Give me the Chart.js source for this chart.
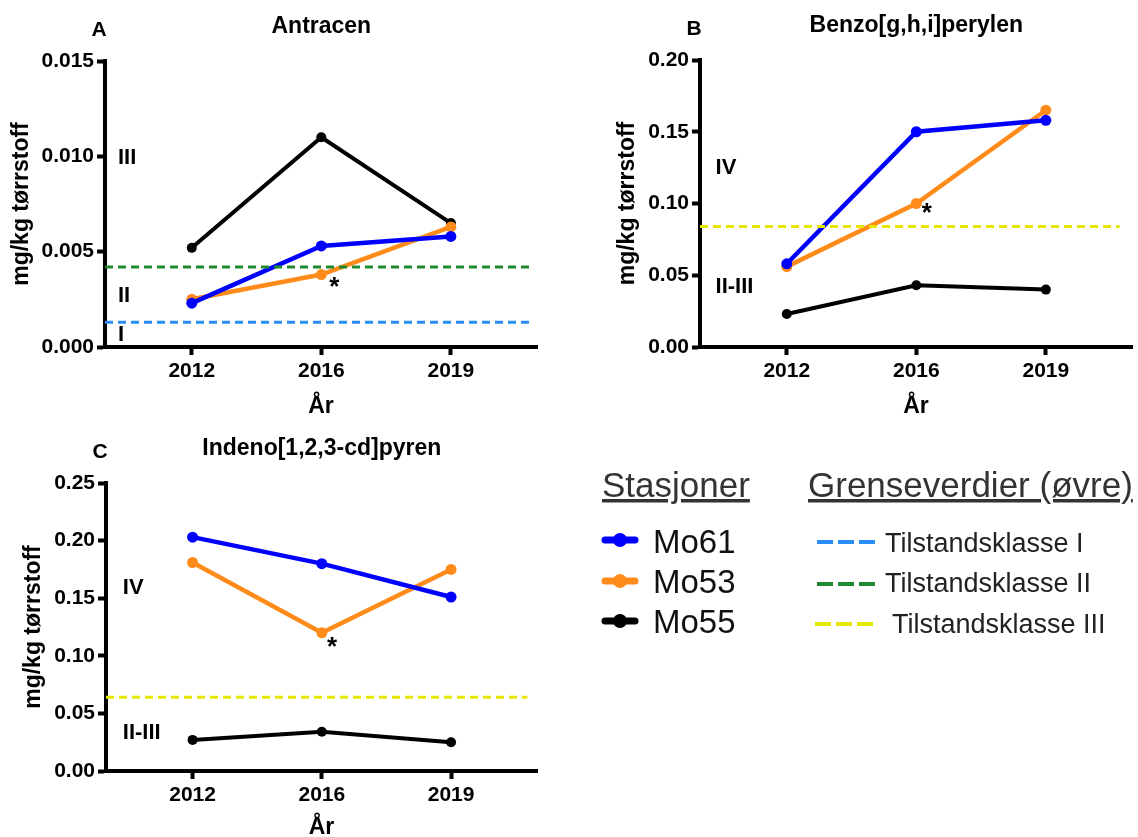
<!DOCTYPE html>
<html>
<head>
<meta charset="utf-8">
<script src="https://cdn.jsdelivr.net/npm/chart.js@4.4.0/dist/chart.umd.min.js"></script>
<style>
  body { margin: 0; background: #fff; width: 1138px; height: 837px; position: relative; overflow: hidden; }
  .box { position: absolute; }
  svg text { font-family: "Liberation Sans", Arial, sans-serif; }
</style>
</head>
<body>
<div class="box" style="left:0;top:0"><canvas id="chartA" width="560" height="420"></canvas></div>
<div class="box" style="left:580px;top:0"><canvas id="chartB" width="558" height="420"></canvas></div>
<div class="box" style="left:0;top:420px"><canvas id="chartC" width="560" height="421"></canvas></div>

<svg class="box" style="left:0;top:0" width="1138" height="837">
  <text x="602" y="497" font-size="35" fill="#333" text-decoration="underline">Stasjoner</text>
  <text x="808" y="497" font-size="35" fill="#333" text-decoration="underline">Grenseverdier (øvre)</text>

  <line x1="605" y1="540" x2="635" y2="540" stroke="#0000ff" stroke-width="7" stroke-linecap="round"/>
  <circle cx="620" cy="540" r="7" fill="#0000ff"/>
  <text x="653" y="553" font-size="33" fill="#111">Mo61</text>
  <line x1="605" y1="581" x2="635" y2="581" stroke="#ff8c1a" stroke-width="7" stroke-linecap="round"/>
  <circle cx="620" cy="581" r="7" fill="#ff8c1a"/>
  <text x="653" y="593" font-size="33" fill="#111">Mo53</text>
  <line x1="605" y1="621" x2="635" y2="621" stroke="#000" stroke-width="7" stroke-linecap="round"/>
  <circle cx="620" cy="621" r="7" fill="#000"/>
  <text x="653" y="633" font-size="33" fill="#111">Mo55</text>

  <line x1="817" y1="542" x2="875" y2="542" stroke="#2a8cf5" stroke-width="4" stroke-dasharray="16 5"/>
  <text x="885" y="552" font-size="27" fill="#222">Tilstandsklasse I</text>
  <line x1="817" y1="584" x2="875" y2="584" stroke="#1e8a30" stroke-width="4" stroke-dasharray="16 5"/>
  <text x="885" y="592" font-size="27" fill="#222">Tilstandsklasse II</text>
  <line x1="815" y1="624" x2="873" y2="624" stroke="#e6e600" stroke-width="4" stroke-dasharray="16 5"/>
  <text x="892" y="633" font-size="27" fill="#222">Tilstandsklasse III</text>
</svg>

<script>
// år (kategorier)
const years = ["2012", "2016", "2019"];

// Antracen
const antracenMo61 = [0.0023, 0.0053, 0.0058];
const antracenMo53 = [0.0025, 0.0038, 0.0063];
const antracenMo55 = [0.0052, 0.0110, 0.0065];
const antracenKlasseI = 0.0013;
const antracenKlasseII = 0.0042;
const antracenTicks = [0, 0.005, 0.010, 0.015];

// Benzo[g,h,i]perylen
const benzoMo61 = [0.058, 0.150, 0.158];
const benzoMo53 = [0.056, 0.100, 0.165];
const benzoMo55 = [0.023, 0.043, 0.040];
const benzoKlasseIII = 0.084;
const benzoTicks = [0, 0.05, 0.10, 0.15, 0.20];

// Indeno[1,2,3-cd]pyren
const indenoMo61 = [0.203, 0.180, 0.151];
const indenoMo53 = [0.181, 0.120, 0.175];
const indenoMo55 = [0.027, 0.034, 0.025];
const indenoKlasseIII = 0.064;
const indenoTicks = [0, 0.05, 0.10, 0.15, 0.20, 0.25];

const FONT = '"Liberation Sans", Arial, Helvetica, sans-serif';
const xMin = -0.67, xMax = 2.665;

// tekst i panelet: bokstav, tittel, klassenavn og stjerne
const panelText = {
  id: 'panelText',
  afterDatasetsDraw(chart, args, opts) {
    const { ctx, chartArea, scales: { x, y } } = chart;
    ctx.save();
    ctx.fillStyle = '#000';
    ctx.textBaseline = 'middle';
    ctx.textAlign = 'center';
    ctx.font = 'bold 21px ' + FONT;
    ctx.fillText(opts.letter, chartArea.left - 6, chartArea.top - 31);
    ctx.font = 'bold 23px ' + FONT;
    ctx.fillText(opts.title, x.getPixelForValue(1), chartArea.top - 34);
    ctx.textAlign = 'left';
    ctx.font = 'bold 22px ' + FONT;
    for (const l of opts.labels) {
      ctx.fillText(l.text, x.getPixelForValue(l.x), y.getPixelForValue(l.y));
    }
    ctx.textAlign = 'center';
    ctx.font = 'bold 26px ' + FONT;
    ctx.fillText('*', x.getPixelForValue(opts.star.x), y.getPixelForValue(opts.star.y) + 6);
    ctx.restore();
  }
};

function serie(values, color, width, radius) {
  return {
    data: values.map((v, i) => ({ x: i, y: v })),
    borderColor: color, backgroundColor: color,
    borderWidth: width, pointRadius: radius, pointHoverRadius: radius,
    pointBorderWidth: 0, tension: 0
  };
}

function grense(value, color, end) {
  return {
    data: [{ x: xMin, y: value }, { x: end, y: value }],
    borderColor: color, borderWidth: 3, borderDash: [8, 5],
    pointRadius: 0, tension: 0
  };
}

function makeChart(id, p) {
  new Chart(document.getElementById(id), {
    type: 'line',
    data: {
      datasets: p.limits.map(l => grense(l.value, l.color, p.lineEnd)).concat([
        serie(p.mo61, '#0000ff', 4.5, 5.5),
        serie(p.mo53, '#ff8c1a', 4.5, 5.5),
        serie(p.mo55, '#000000', 4, 5)
      ])
    },
    options: {
      responsive: false,
      animation: false,
      layout: { padding: { left: p.padLeft, right: p.padRight, top: p.top, bottom: 0 } },
      plugins: {
        legend: { display: false },
        tooltip: { enabled: false },
        panelText: { letter: p.letter, title: p.title, labels: p.labels, star: p.star }
      },
      scales: {
        x: {
          type: 'linear', min: xMin, max: xMax,
          afterBuildTicks: a => { a.ticks = years.map((y, i) => ({ value: i })); },
          afterFit: a => { a.height = p.xAxisH; },
          ticks: { callback: v => years[v], color: '#000', padding: 4, maxRotation: 0, autoSkip: false,
                   font: { family: FONT, size: 21, weight: 'bold' } },
          grid: { drawOnChartArea: false, tickLength: 8, tickWidth: 4, tickColor: '#000' },
          border: { color: '#000', width: 4 },
          title: { display: true, text: 'År', color: '#000', padding: 0,
                   font: { family: FONT, size: 23, weight: 'bold', lineHeight: 1.2 } }
        },
        y: {
          min: 0, max: p.ticks[p.ticks.length - 1],
          afterBuildTicks: a => { a.ticks = p.ticks.map(v => ({ value: v })); },
          afterFit: a => { a.width = p.yAxisW; },
          ticks: { callback: v => v.toFixed(p.dec), color: '#000', padding: 3,
                   font: { family: FONT, size: 21, weight: 'bold' } },
          grid: { drawOnChartArea: false, tickLength: 8, tickWidth: 4, tickColor: '#000' },
          border: { color: '#000', width: 4 },
          title: { display: true, text: 'mg/kg tørrstoff', color: '#000', padding: 0,
                   font: { family: FONT, size: 23, weight: 'bold', lineHeight: 1.2 } }
        }
      }
    },
    plugins: [panelText]
  });
}

makeChart('chartA', {
  letter: 'A', title: 'Antracen',
  mo61: antracenMo61, mo53: antracenMo53, mo55: antracenMo55,
  limits: [{ value: antracenKlasseII, color: '#1e8a30' }, { value: antracenKlasseI, color: '#2a8cf5' }],
  lineEnd: 2.63, ticks: antracenTicks, dec: 3,
  padLeft: 8, yAxisW: 97, padRight: 23, top: 61, xAxisH: 73,
  labels: [{ text: 'III', x: -0.57, y: 0.0099 }, { text: 'II', x: -0.57, y: 0.0027 }, { text: 'I', x: -0.57, y: 0.00063 }],
  star: { x: 1.1, y: 0.0034 }
});

makeChart('chartB', {
  letter: 'B', title: 'Benzo[g,h,i]perylen',
  mo61: benzoMo61, mo53: benzoMo53, mo55: benzoMo55,
  limits: [{ value: benzoKlasseIII, color: '#e6e600' }],
  lineEnd: 2.57, ticks: benzoTicks, dec: 2,
  padLeft: 34, yAxisW: 86, padRight: 6, top: 60, xAxisH: 73,
  labels: [{ text: 'IV', x: -0.55, y: 0.125 }, { text: 'II-III', x: -0.55, y: 0.042 }],
  star: { x: 1.08, y: 0.097 }
});

makeChart('chartC', {
  letter: 'C', title: 'Indeno[1,2,3-cd]pyren',
  mo61: indenoMo61, mo53: indenoMo53, mo55: indenoMo55,
  limits: [{ value: indenoKlasseIII, color: '#e6e600' }],
  lineEnd: 2.59, ticks: indenoTicks, dec: 2,
  padLeft: 20, yAxisW: 86, padRight: 23, top: 63, xAxisH: 70,
  labels: [{ text: 'IV', x: -0.54, y: 0.159 }, { text: 'II-III', x: -0.54, y: 0.033 }],
  star: { x: 1.08, y: 0.112 }
});
</script>
</body>
</html>
